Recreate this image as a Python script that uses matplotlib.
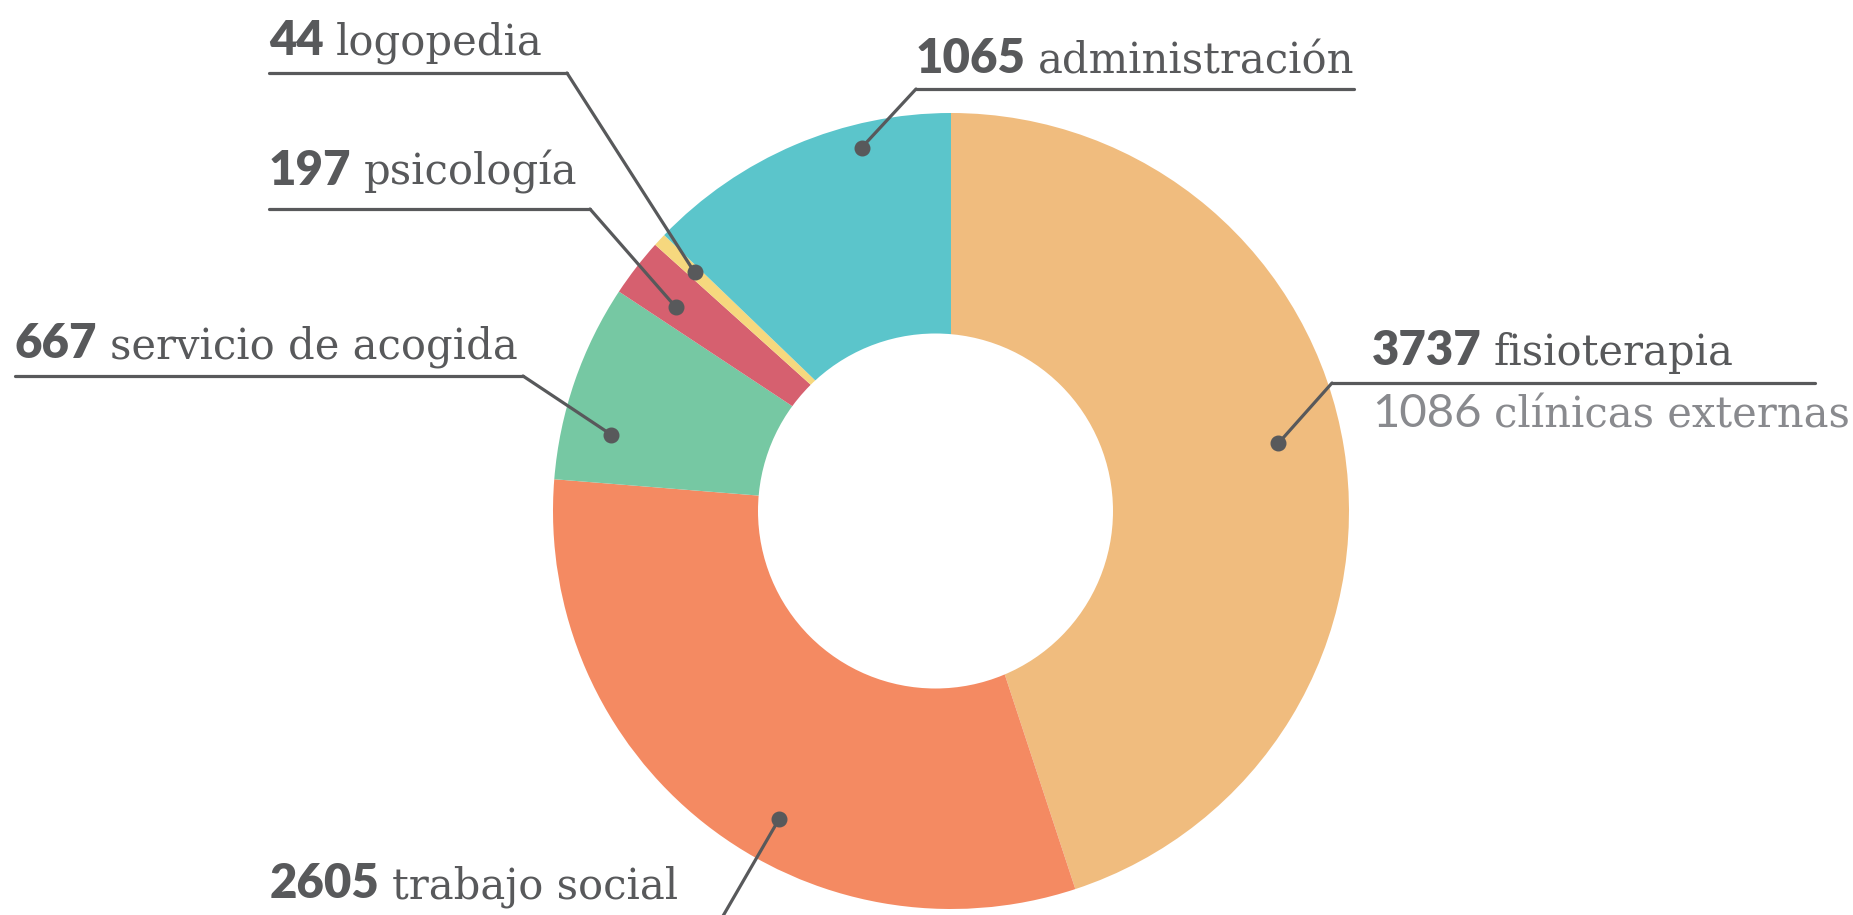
import matplotlib
matplotlib.use('Agg')
import matplotlib.pyplot as plt
from matplotlib.patches import Circle
import numpy as np

# ---- data ----
categories = ['fisioterapia', 'trabajo social', 'servicio de acogida',
              'psicología', 'logopedia', 'administración']
values = [3737, 2605, 667, 197, 44, 1065]
sub_value = 1086
sub_label = 'clínicas externas'
colors = ['#F0BC7E', '#F48A62', '#76C8A3', '#D6606F', '#F6D87E', '#5BC5CB']

DARK = '#58595B'
GRAY = '#898A8E'

W, H = 1853, 915
fig = plt.figure(figsize=(W / 100, H / 100), dpi=100)
ax = fig.add_axes([0, 0, 1, 1])

cx, cy = 951, H - 511
R = 398
wedges, _ = ax.pie(values, colors=colors, startangle=90, counterclock=False,
                   radius=R, center=(cx, cy), wedgeprops=dict(linewidth=0))
ax.add_patch(Circle((935.5, H - 511), 177.5, facecolor='white', edgecolor='none', zorder=3))
ax.set_xlim(0, W)
ax.set_ylim(0, H)
ax.set_aspect('auto')
ax.axis('off')

renderer = fig.canvas.get_renderer()

# layout per label (pixel positions, top-origin y)
layout = {
    'fisioterapia':        dict(tx=1372, base=365, uy=383, ux0=1332, ux1=1815, elbow='left',  frac=0.484, rf=0.84),
    'trabajo social':      dict(tx=270,  base=898, uy=935, ux0=269,  ux1=712,  elbow='right', frac=0.42,  rf=0.885),
    'servicio de acogida': dict(tx=15,   base=358, uy=376, ux0=15,   ux1=523,  elbow='right', frac=0.28,  rf=0.875),
    'psicología':          dict(tx=269,  base=185, uy=209, ux0=269,  ux1=590,  elbow='right', frac=0.36,  rf=0.86),
    'logopedia':           dict(tx=269,  base=55,  uy=73,  ux0=269,  ux1=567,  elbow='right', frac=0.5,   rf=0.88),
    'administración':      dict(tx=916,  base=73,  uy=89,  ux0=916,  ux1=1354, elbow='left',  frac=0.70,  rf=0.94),
}

NUM_FS = 34
WORD_FS = 30
GAP = 12


def draw_label(x, base, num, word, color, numweight='heavy'):
    t = ax.text(x, H - base, str(num), fontfamily='Lato', fontweight=numweight,
                fontsize=NUM_FS, color=color, va='baseline', ha='left', zorder=5)
    bb = t.get_window_extent(renderer)
    ax.text(bb.x1 + GAP, H - base, word, fontfamily='DejaVu Serif',
            fontsize=WORD_FS, color=color, va='baseline', ha='left', zorder=5)


for w, cat, val in zip(wedges, categories, values):
    L = layout[cat]
    ang = np.deg2rad(w.theta2 - L['frac'] * (w.theta2 - w.theta1))
    dx = cx + L['rf'] * R * np.cos(ang)
    dy = cy + L['rf'] * R * np.sin(ang)
    ex = L['ux0'] if L['elbow'] == 'left' else L['ux1']
    ax.plot([L['ux0'], L['ux1']], [H - L['uy'], H - L['uy']], color=DARK, lw=2.3,
            solid_capstyle='round', zorder=4, clip_on=False)
    ax.plot([ex, dx], [H - L['uy'], dy], color=DARK, lw=2.3,
            solid_capstyle='round', zorder=4, clip_on=False)
    ax.plot([dx], [dy], 'o', color=DARK, markersize=10.5, zorder=6)
    draw_label(L['tx'], L['base'], val, cat, DARK)

# secondary line under fisioterapia
draw_label(layout['fisioterapia']['tx'], 427, sub_value, sub_label, GRAY, numweight='normal')

fig.savefig('out.png', dpi=100)
